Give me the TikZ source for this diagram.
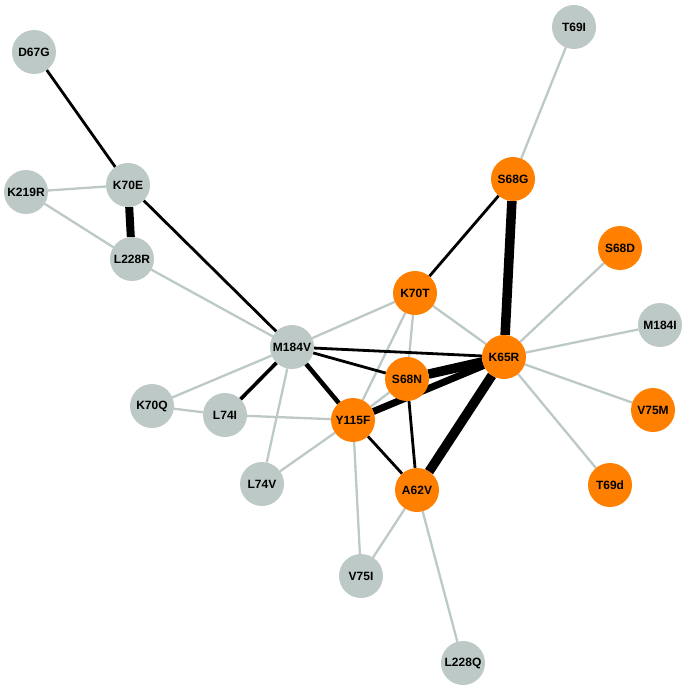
\documentclass[tikz,border=0pt]{standalone}
\usepackage{fontspec}
\setmainfont{Liberation Sans}
\definecolor{nodegray}{HTML}{BDC9C6}
\definecolor{nodeorange}{HTML}{FF8000}
\pgfdeclarelayer{edges}
\pgfsetlayers{edges,main}
\begin{document}
\begin{tikzpicture}[x=1pt,y=-1pt,
  mut/.style={circle,minimum size=44pt,inner sep=0pt,outer sep=0pt,
    font=\fontsize{12}{12}\selectfont\bfseries,text=black},
  gnode/.style={mut,fill=nodegray},
  onode/.style={mut,fill=nodeorange},
  gedge/.style={draw=nodegray,line width=2.3pt},
  bedge/.style={draw=black,line width=2.8pt},
  medge/.style={draw=black,line width=4.5pt},
  tedge/.style={draw=black,line width=7pt},
  hedge/.style={draw=black,line width=9.5pt}]
\useasboundingbox (0,0) rectangle (689,690);
% nodes
\node[gnode] (D67G) at (34,52) {D67G};
\node[gnode] (T69I) at (574,27) {T69I};
\node[gnode] (K70E) at (128,185) {K70E};
\node[gnode] (K219R) at (26,192) {K219R};
\node[gnode] (L228R) at (132,259) {L228R};
\node[onode] (S68G) at (513,179) {S68G};
\node[onode] (S68D) at (620,248) {S68D};
\node[onode] (K70T) at (415,293) {K70T};
\node[gnode] (M184I) at (660,325) {M184I};
\node[gnode] (M184V) at (292,347) {M184V};
\node[onode] (K65R) at (504,357) {K65R};
\node[onode] (S68N) at (407,379) {S68N};
\node[gnode] (K70Q) at (152,406) {K70Q};
\node[gnode] (L74I) at (225,415) {L74I};
\node[onode] (Y115F) at (353,420) {Y115F};
\node[onode] (V75M) at (653,410) {V75M};
\node[gnode] (L74V) at (262,484) {L74V};
\node[onode] (A62V) at (417,490) {A62V};
\node[onode] (T69d) at (610,485) {T69d};
\node[gnode] (V75I) at (361,576) {V75I};
\node[gnode] (L228Q) at (463,663) {L228Q};
% edges behind nodes
\begin{pgfonlayer}{edges}
\draw[gedge] (K70E) -- (K219R);
\draw[gedge] (K219R) -- (L228R);
\draw[gedge] (L228R) -- (M184V);
\draw[gedge] (T69I) -- (S68G);
\draw[gedge] (S68D) -- (K65R);
\draw[gedge] (M184I) -- (K65R);
\draw[gedge] (V75M) -- (K65R);
\draw[gedge] (T69d) -- (K65R);
\draw[gedge] (K70T) -- (K65R);
\draw[gedge] (K70T) -- (S68N);
\draw[gedge] (K70T) -- (M184V);
\draw[gedge] (K70T) -- (Y115F);
\draw[gedge] (S68N) -- (Y115F);
\draw[gedge] (M184V) -- (K70Q);
\draw[gedge] (M184V) -- (L74V);
\draw[gedge] (K70Q) -- (L74I);
\draw[gedge] (L74I) -- (Y115F);
\draw[gedge] (L74V) -- (Y115F);
\draw[gedge] (Y115F) -- (V75I);
\draw[gedge] (A62V) -- (V75I);
\draw[gedge] (A62V) -- (L228Q);
\draw[bedge] (D67G) -- (K70E);
\draw[bedge] (K70E) -- (M184V);
\draw[bedge] (S68G) -- (K70T);
\draw[bedge] (M184V) -- (K65R);
\draw[bedge] (M184V) -- (S68N);
\draw[bedge] (S68N) -- (A62V);
\draw[bedge] (Y115F) -- (A62V);
\draw[medge,line width=3.6pt] (M184V) -- (L74I);
\draw[medge] (M184V) -- (Y115F);
\draw[tedge] (K65R) -- (Y115F);
\draw[tedge,line width=8pt] (K70E) -- (L228R);
\draw[hedge] (K65R) -- (S68N);
\draw[hedge] (K65R) -- (S68G);
\draw[hedge] (K65R) -- (A62V);
\end{pgfonlayer}
\end{tikzpicture}
\end{document}
